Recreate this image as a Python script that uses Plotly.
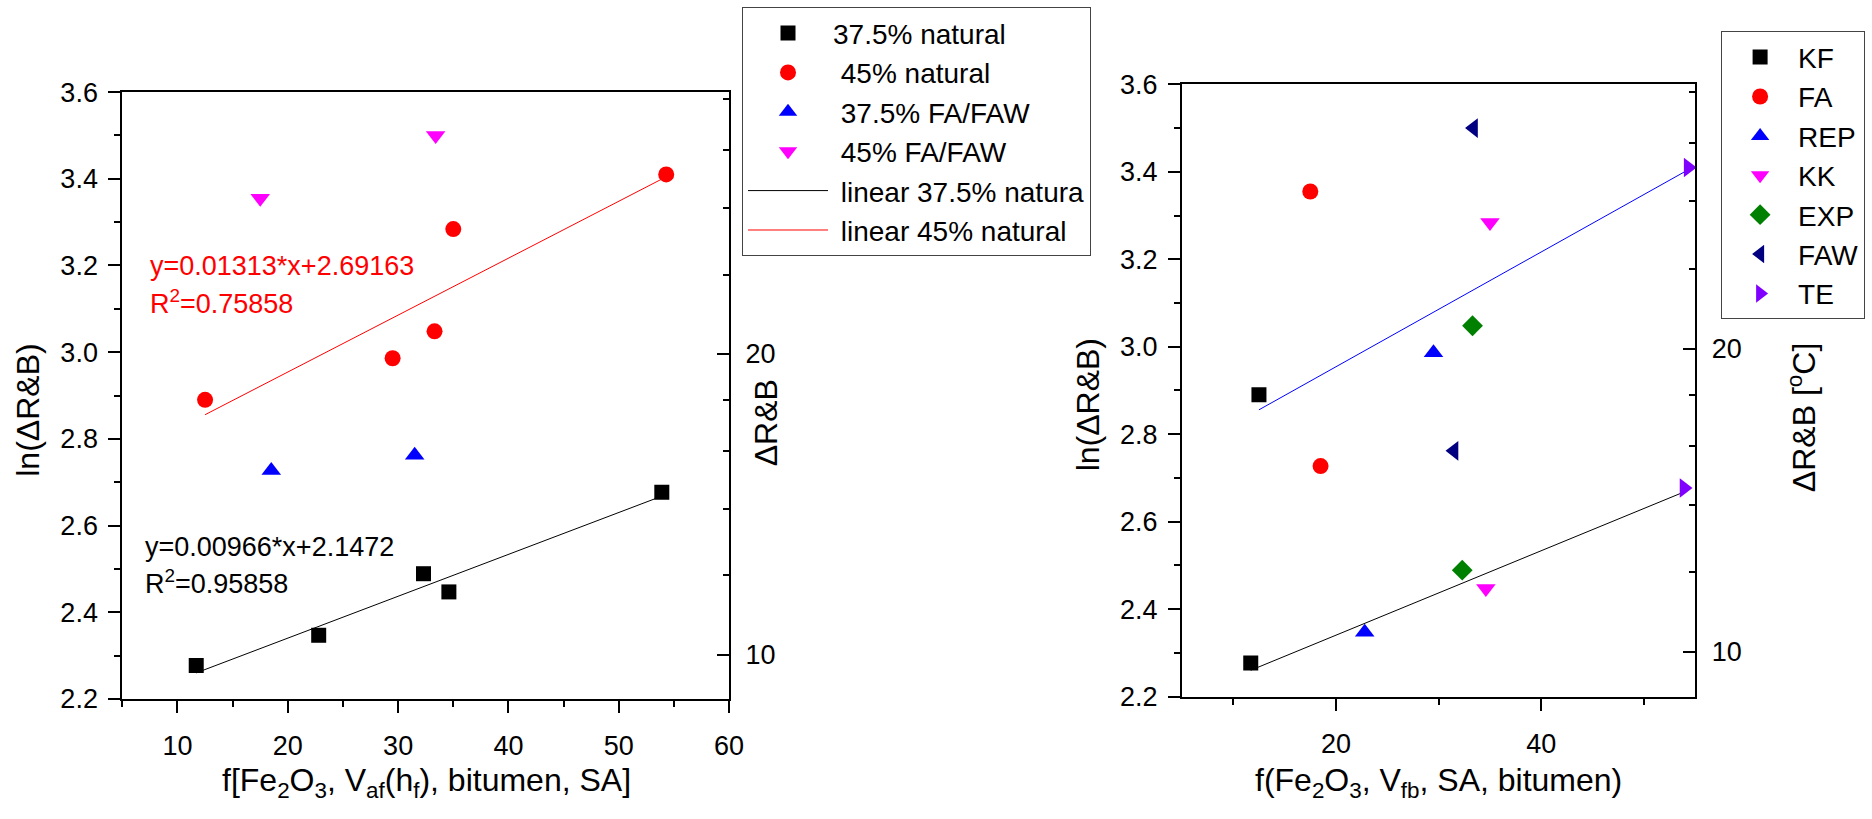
import math
import plotly.graph_objects as go

W, H = 1872, 819
FONT = "Liberation Sans, Arial, sans-serif"

# Binder materials and their measured points for the two filler contents
materials = ["KF", "FA", "REP", "KK", "EXP", "FAW", "TE"]
colors = ["#000000", "#FF0000", "#0000FF", "#FF00FF", "#008000", "#000080", "#8000FF"]
symbols = ["square", "circle", "triangle-up", "triangle-down", "diamond",
           "triangle-left", "triangle-right"]
sizes = [15, 16, 17, 17, 16, 17, 17]

# 37.5 % filler: x on the left panel scale, ln(dR&B)
x_375 = [11.7, 18.5, 22.8, 34.6, 32.3, 31.5, 53.9]
ln_375 = [2.277, 2.727, 2.347, 2.447, 2.489, 2.762, 2.677]
# 45 % filler
x_45 = [12.5, 17.5, 29.5, 35.0, 33.3, 33.4, 54.3]
ln_45 = [2.890, 3.355, 2.986, 3.284, 3.048, 3.500, 3.410]

# Linear fits (slope, intercept, R^2)
fit_375 = (0.00966, 2.1472, 0.95858)
fit_45 = (0.01313, 2.69163, 0.75858)

# Right-hand dR&B axis ticks (log scale, same span as ln axis)
rb_major = [10, 20]
rb_minor = [12, 14, 16, 18, 24, 28, 32, 36]

y_range = [2.2, 3.6]


def px_x(p):
    return p / W


def px_y(p):
    return 1 - p / H


fa_group = {"FA", "FAW"}
nat_idx = [i for i, m in enumerate(materials) if m not in fa_group]
faw_idx = [i for i, m in enumerate(materials) if m in fa_group]


def pick(arr, idx):
    return [arr[i] for i in idx]


def fit_line(fit, xs):
    lo, hi = min(xs), max(xs)
    return [lo, hi], [fit[0] * lo + fit[1], fit[0] * hi + fit[1]]


fig = go.Figure()

# ---- left panel -------------------------------------------------------
left_series = [
    ("37.5% natural", pick(x_375, nat_idx), pick(ln_375, nat_idx), "square", "#000000", 15),
    ("\u00a045% natural", pick(x_45, nat_idx), pick(ln_45, nat_idx), "circle", "#FF0000", 16),
    ("\u00a037.5% FA/FAW", pick(x_375, faw_idx), pick(ln_375, faw_idx), "triangle-up", "#0000FF", 17),
    ("\u00a045% FA/FAW", pick(x_45, faw_idx), pick(ln_45, faw_idx), "triangle-down", "#FF00FF", 17),
]
for name, xs, ys, sym, col, sz in left_series:
    fig.add_trace(go.Scatter(
        x=xs, y=ys, mode="markers", name=name, legend="legend",
        marker=dict(symbol=sym, color=col, size=sz, line=dict(width=0)),
        xaxis="x", yaxis="y"))

lx, ly = fit_line(fit_375, pick(x_375, nat_idx))
fig.add_trace(go.Scatter(x=lx, y=ly, mode="lines", name="\u00a0linear 37.5% natura",
                         legend="legend", line=dict(color="#000000", width=1),
                         xaxis="x", yaxis="y"))
lx, ly = fit_line(fit_45, pick(x_45, nat_idx))
fig.add_trace(go.Scatter(x=lx, y=ly, mode="lines", name="\u00a0linear 45% natural",
                         legend="legend", line=dict(color="#FF0000", width=1),
                         xaxis="x", yaxis="y"))

# dR&B values on the secondary (log) axis; coincide with the ln markers
fig.add_trace(go.Scatter(x=x_375, y=[math.exp(v) for v in ln_375], mode="markers",
                         marker=dict(opacity=0), hoverinfo="skip", showlegend=False,
                         xaxis="x", yaxis="y2"))

# ---- right panel ------------------------------------------------------
lx, ly = fit_line(fit_45, pick(x_45, nat_idx))
fig.add_trace(go.Scatter(x=lx, y=ly, mode="lines", showlegend=False,
                         line=dict(color="#0000FF", width=1), xaxis="x2", yaxis="y3"))
lx, ly = fit_line(fit_375, pick(x_375, nat_idx))
fig.add_trace(go.Scatter(x=lx, y=ly, mode="lines", showlegend=False,
                         line=dict(color="#000000", width=1), xaxis="x2", yaxis="y3"))

for i, m in enumerate(materials):
    fig.add_trace(go.Scatter(
        x=[x_45[i], x_375[i]], y=[ln_45[i], ln_375[i]], mode="markers", name=m,
        legend="legend2",
        marker=dict(symbol=symbols[i], color=colors[i], size=sizes[i], line=dict(width=0)),
        xaxis="x2", yaxis="y3"))

fig.add_trace(go.Scatter(x=x_375, y=[math.exp(v) for v in ln_375], mode="markers",
                         marker=dict(opacity=0), hoverinfo="skip", showlegend=False,
                         xaxis="x2", yaxis="y4"))

# ---- axes -------------------------------------------------------------
tickfont = dict(family=FONT, size=27, color="#000000")
log_range = [y_range[0] / math.log(10), y_range[1] / math.log(10)]

common_x = dict(showgrid=False, zeroline=False, showline=True, linecolor="#000000",
                linewidth=2, mirror=True, ticks="outside", ticklen=12, tickwidth=2,
                tickcolor="#000000", tickfont=tickfont, tick0=0, ticklabelstandoff=10)
common_y = dict(showgrid=False, zeroline=False, showline=True, linecolor="#000000",
                linewidth=2, ticks="outside", ticklen=12, tickwidth=2,
                tickcolor="#000000", tickfont=tickfont, range=y_range,
                tick0=2.2, dtick=0.2, tickformat=".1f", ticklabelstandoff=5,
                minor=dict(ticks="outside", ticklen=6, tickwidth=2, tickcolor="#000000",
                           dtick=0.1, tick0=2.2))
common_y2 = dict(showgrid=False, zeroline=False, showline=True, linecolor="#000000",
                 linewidth=2, type="log", range=log_range, side="right",
                 tickmode="array", tickvals=rb_major, ticktext=[str(v) for v in rb_major],
                 ticks="inside", ticklen=12, tickwidth=2, tickcolor="#000000",
                 tickfont=tickfont, ticklabelstandoff=9,
                 minor=dict(ticks="inside", ticklen=6, tickwidth=2, tickcolor="#000000",
                            tickmode="array", tickvals=rb_minor))

fig.update_layout(
    xaxis=dict(common_x, domain=[px_x(123.3), px_x(735)], range=[5, 60], dtick=10,
               anchor="y",
               minor=dict(ticks="outside", ticklen=6, tickwidth=2, tickcolor="#000000",
                          dtick=5, tick0=0)),
    yaxis=dict(common_y, domain=[px_y(710), px_y(80)], anchor="x"),
    yaxis2=dict(common_y2, overlaying="y", anchor="x"),
    xaxis2=dict(common_x, domain=[px_x(1191.5), px_x(1709)], range=[5, 55], dtick=20,
                anchor="y3",
                minor=dict(ticks="outside", ticklen=6, tickwidth=2, tickcolor="#000000",
                           dtick=10, tick0=0)),
    yaxis3=dict(common_y, domain=[px_y(707.5), px_y(72)], anchor="x2"),
    yaxis4=dict(common_y2, overlaying="y3", anchor="x2"),
)

# ---- legends ----------------------------------------------------------
legend_common = dict(font=dict(family=FONT, size=28, color="#000000"),
                     bgcolor="rgba(255,255,255,0)", bordercolor="#444444", borderwidth=1,
                     xanchor="left", yanchor="top", tracegroupgap=0, itemwidth=80,
                     itemclick=False, itemdoubleclick=False)
fig.update_layout(
    legend=dict(legend_common, x=px_x(748), y=px_y(-8)),
    # kept narrow enough to stay inside the page width
    legend2=dict(legend_common, x=px_x(1735), y=px_y(17), itemwidth=66),
)

# ---- titles and fit labels --------------------------------------------
title_font = dict(family=FONT, size=32, color="#000000")
eq_font_red = dict(family=FONT, size=27, color="#FF0000")
eq_font_blk = dict(family=FONT, size=27, color="#000000")


def note(text, x, y, font, angle=0, xanchor="center", yanchor="middle"):
    fig.add_annotation(text=text, x=px_x(x), y=px_y(y), xref="paper", yref="paper",
                       showarrow=False, font=font, textangle=angle,
                       xanchor=xanchor, yanchor=yanchor)


note("ln(ΔR&amp;B)", 28, 410, title_font, angle=-90)
note("ΔR&amp;B", 772, 423, title_font, angle=-90)
note("f[Fe<sub>2</sub>O<sub>3</sub>, V<sub>af</sub>(h<sub>f</sub>), bitumen, SA]",
     429.5, 797, title_font)
note("ln(ΔR&amp;B)", 1097, 405, title_font, angle=-90)
note("ΔR&amp;B [<sup>o</sup>C]", 1816, 418, title_font, angle=-90)
note("f(Fe<sub>2</sub>O<sub>3</sub>, V<sub>fb</sub>, SA, bitumen)", 1450, 797, title_font)

note("y=%.5f*x+%.5f" % (fit_45[0], fit_45[1]), 149, 260.5, eq_font_red, xanchor="left")
note("R<sup>2</sup>=%.5f" % fit_45[2], 149, 298, eq_font_red, xanchor="left")
note("y=%.5f*x+%.4f" % (fit_375[0], fit_375[1]), 144, 552, eq_font_blk, xanchor="left")
note("R<sup>2</sup>=%.5f" % fit_375[2], 144, 589, eq_font_blk, xanchor="left")

fig.update_layout(
    width=W, height=H, autosize=False,
    margin=dict(l=0, r=0, t=0, b=0),
    paper_bgcolor="#FFFFFF", plot_bgcolor="#FFFFFF",
    font=dict(family=FONT, color="#000000"),
)

fig.write_html("out.html", config={"displayModeBar": False})
